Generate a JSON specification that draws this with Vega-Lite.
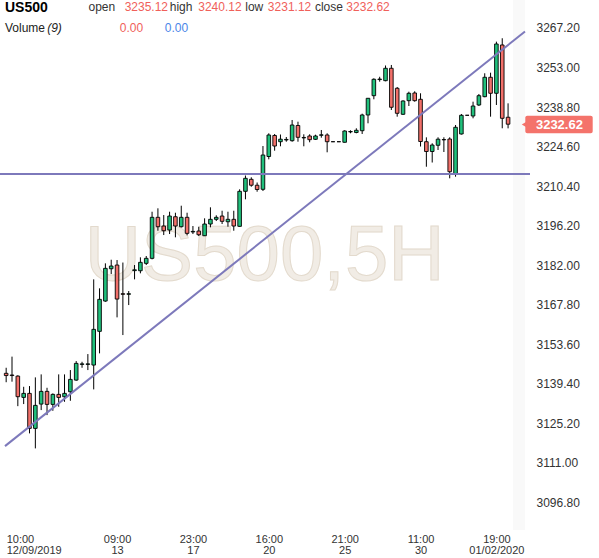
{
  "$schema": "https://vega.github.io/schema/vega-lite/v6.json",
  "autosize": {"type": "none"},
  "width": 530,
  "height": 530,
  "padding": {"left": 0, "top": 0, "right": 69, "bottom": 28},
  "background": "#ffffff",
  "config": {
    "view": {"stroke": null},
    "font": "Liberation Sans",
    "axis": {"domain": false, "ticks": false, "gridColor": "#efefef", "gridWidth": 1, "labelFont": "Liberation Sans", "labelColor": "#333333", "labelFontSize": 11}
  },
  "datasets": {
    "candles": [
      {"i":0,"o":3143.1,"h":3145.1,"l":3139.9,"c":3142.3},
      {"i":1,"o":3142.5,"h":3149.1,"l":3140.1,"c":3142.3},
      {"i":2,"o":3142.1,"h":3142.4,"l":3131.3,"c":3134.7},
      {"i":3,"o":3134.45,"h":3138.26,"l":3132.05,"c":3135.89},
      {"i":4,"o":3135.89,"h":3138.52,"l":3121.52,"c":3123.31},
      {"i":5,"o":3123.31,"h":3141.64,"l":3116.12,"c":3131.58},
      {"i":6,"o":3132.05,"h":3142.72,"l":3129.89,"c":3136.61},
      {"i":7,"o":3136.61,"h":3137.91,"l":3128.09,"c":3131.94},
      {"i":8,"o":3131.94,"h":3135.89,"l":3129.64,"c":3135.53},
      {"i":9,"o":3135.53,"h":3142.72,"l":3131.08,"c":3134.45},
      {"i":10,"o":3134.67,"h":3142.72,"l":3132.87,"c":3135.89},
      {"i":11,"o":3136.47,"h":3144.27,"l":3133.23,"c":3140.92},
      {"i":12,"o":3140.67,"h":3147.5,"l":3140.42,"c":3146.68},
      {"i":13,"o":3146.3,"h":3147.25,"l":3145.1,"c":3146.5},
      {"i":14,"o":3146.3,"h":3150.02,"l":3144.27,"c":3146.5},
      {"i":15,"o":3146.07,"h":3176.87,"l":3137.33,"c":3158.9},
      {"i":16,"o":3158.18,"h":3173.64,"l":3150.27,"c":3169.68},
      {"i":17,"o":3169.07,"h":3182.62,"l":3168.8,"c":3180.82},
      {"i":18,"o":3180.68,"h":3183.92,"l":3178.78,"c":3181.65},
      {"i":19,"o":3182.01,"h":3183.81,"l":3163.21,"c":3169.79},
      {"i":20,"o":3171.7,"h":3182.91,"l":3156.85,"c":3171.5},
      {"i":21,"o":3171.5,"h":3172.67,"l":3167.63,"c":3171.7},
      {"i":22,"o":3180.0,"h":3182.01,"l":3176.87,"c":3180.3},
      {"i":23,"o":3179.96,"h":3184.78,"l":3179.03,"c":3182.98},
      {"i":24,"o":3182.62,"h":3185.25,"l":3182.01,"c":3184.42},
      {"i":25,"o":3184.42,"h":3201.17,"l":3184.06,"c":3199.16},
      {"i":26,"o":3199.16,"h":3202.39,"l":3194.34,"c":3195.78},
      {"i":27,"o":3196.03,"h":3199.98,"l":3192.79,"c":3194.34},
      {"i":28,"o":3194.59,"h":3201.17,"l":3193.15,"c":3199.62},
      {"i":29,"o":3199.37,"h":3200.81,"l":3191.97,"c":3196.03},
      {"i":30,"o":3195.78,"h":3203.33,"l":3195.5,"c":3199.16},
      {"i":31,"o":3199.16,"h":3200.81,"l":3192.69,"c":3193.4},
      {"i":32,"o":3193.9,"h":3196.03,"l":3193.15,"c":3194.1},
      {"i":33,"o":3194.23,"h":3195.78,"l":3192.43,"c":3192.9},
      {"i":34,"o":3192.54,"h":3198.8,"l":3192.43,"c":3196.75},
      {"i":35,"o":3196.75,"h":3202.75,"l":3195.56,"c":3198.44},
      {"i":36,"o":3198.44,"h":3199.88,"l":3197.83,"c":3199.16},
      {"i":37,"o":3199.62,"h":3201.53,"l":3196.75,"c":3197.72},
      {"i":38,"o":3197.57,"h":3201.17,"l":3195.78,"c":3198.44},
      {"i":39,"o":3198.44,"h":3201.53,"l":3194.34,"c":3196.03},
      {"i":40,"o":3195.92,"h":3209.22,"l":3195.78,"c":3208.5},
      {"i":41,"o":3208.5,"h":3214.18,"l":3205.63,"c":3213.17},
      {"i":42,"o":3212.82,"h":3213.53,"l":3210.16,"c":3210.69},
      {"i":43,"o":3210.69,"h":3211.67,"l":3208.36,"c":3209.15},
      {"i":44,"o":3209.22,"h":3224.78,"l":3208.61,"c":3221.55},
      {"i":45,"o":3221.01,"h":3229.35,"l":3220.0,"c":3228.74},
      {"i":46,"o":3228.56,"h":3229.1,"l":3223.1,"c":3224.78},
      {"i":47,"o":3226.33,"h":3228.92,"l":3224.68,"c":3227.23},
      {"i":48,"o":3226.95,"h":3228.02,"l":3226.33,"c":3227.15},
      {"i":49,"o":3226.69,"h":3234.13,"l":3226.33,"c":3232.33},
      {"i":50,"o":3232.15,"h":3233.52,"l":3226.33,"c":3227.91},
      {"i":51,"o":3227.7,"h":3228.99,"l":3224.68,"c":3227.85},
      {"i":52,"o":3228.38,"h":3228.99,"l":3226.12,"c":3227.05},
      {"i":53,"o":3227.19,"h":3228.85,"l":3226.94,"c":3228.38},
      {"i":54,"o":3228.65,"h":3230.54,"l":3227.77,"c":3228.8},
      {"i":55,"o":3228.74,"h":3229.35,"l":3222.52,"c":3226.33},
      {"i":56,"o":3226.33,"h":3226.33,"l":3226.33,"c":3226.33},
      {"i":57,"o":3226.33,"h":3226.33,"l":3226.33,"c":3226.33},
      {"i":58,"o":3226.12,"h":3230.43,"l":3226.05,"c":3230.18},
      {"i":59,"o":3229.85,"h":3230.43,"l":3229.35,"c":3230.0},
      {"i":60,"o":3229.64,"h":3231.15,"l":3229.35,"c":3230.43},
      {"i":61,"o":3230.28,"h":3236.4,"l":3229.1,"c":3235.93},
      {"i":62,"o":3235.93,"h":3242.0,"l":3232.94,"c":3241.93},
      {"i":63,"o":3242.87,"h":3249.12,"l":3241.57,"c":3248.76},
      {"i":64,"o":3248.65,"h":3249.66,"l":3247.9,"c":3248.85},
      {"i":65,"o":3248.26,"h":3253.72,"l":3248.04,"c":3252.71},
      {"i":66,"o":3252.71,"h":3253.9,"l":3237.73,"c":3238.7},
      {"i":67,"o":3245.53,"h":3245.99,"l":3235.32,"c":3236.54},
      {"i":68,"o":3236.18,"h":3241.2,"l":3235.93,"c":3240.96},
      {"i":69,"o":3241.07,"h":3244.3,"l":3239.16,"c":3243.73},
      {"i":70,"o":3243.84,"h":3244.45,"l":3240.71,"c":3241.07},
      {"i":71,"o":3241.57,"h":3243.73,"l":3224.6,"c":3226.4},
      {"i":72,"o":3226.33,"h":3227.9,"l":3217.34,"c":3222.81},
      {"i":73,"o":3222.81,"h":3225.76,"l":3218.85,"c":3225.14},
      {"i":74,"o":3225.04,"h":3227.91,"l":3223.35,"c":3227.23},
      {"i":75,"o":3227.0,"h":3227.91,"l":3222.63,"c":3227.1},
      {"i":76,"o":3227.3,"h":3227.91,"l":3213.17,"c":3215.55},
      {"i":77,"o":3214.72,"h":3232.33,"l":3213.75,"c":3231.51},
      {"i":78,"o":3229.1,"h":3236.29,"l":3228.9,"c":3235.82},
      {"i":79,"o":3235.82,"h":3235.82,"l":3235.82,"c":3235.82},
      {"i":80,"o":3235.57,"h":3240.71,"l":3234.74,"c":3239.16},
      {"i":81,"o":3239.52,"h":3243.48,"l":3239.16,"c":3242.87},
      {"i":82,"o":3242.51,"h":3250.92,"l":3242.3,"c":3249.48},
      {"i":83,"o":3249.48,"h":3251.13,"l":3235.32,"c":3243.73},
      {"i":84,"o":3243.73,"h":3262.28,"l":3239.52,"c":3261.45},
      {"i":85,"o":3261.09,"h":3263.5,"l":3231.15,"c":3234.74},
      {"i":86,"o":3235.12,"h":3240.12,"l":3231.12,"c":3232.62}
    ],
    "trend": [
      {"i": -0.2, "v": 3116.95},
      {"i": 88.9, "v": 3265.94}
    ]
  },
  "layer": [
    {
      "data": {"values": [{}]},
      "mark": {"type": "text", "text": "US500,5H", "font": "Liberation Sans", "fontSize": 78, "align": "center", "baseline": "middle", "fill": "#f1ece5", "stroke": "#e3dacd", "strokeWidth": 1},
      "encoding": {
        "x": {"datum": 44.3, "type": "quantitative", "title": null,
          "scale": {"domain": [-0.2, 88.9], "nice": false, "zero": false},
          "axis": {"orient": "bottom", "values": [0, 19, 32, 45, 58, 71, 84], "labelPadding": 3, "labelLineHeight": 11, "labelFontSize": 11,
            "labelAlign": {"condition": {"test": "datum.value == 0", "value": "left"}, "value": "center"},
            "gridOpacity": {"condition": {"test": "datum.value == 0", "value": 0}, "value": 1},
            "labelExpr": "datum.value == 0 ? ['10:00', '12/09/2019'] : datum.value == 19 ? ['09:00', '13'] : datum.value == 32 ? ['23:00', '17'] : datum.value == 45 ? ['16:00', '20'] : datum.value == 58 ? ['21:00', '25'] : datum.value == 71 ? ['11:00', '30'] : ['19:00', '01/02/2020']"}},
        "y": {"datum": 3184.9, "type": "quantitative", "title": null,
          "scale": {"domain": [3086.8, 3277.25], "nice": false, "zero": false},
          "axis": {"orient": "right", "values": [3096.8, 3111.0, 3125.2, 3139.4, 3153.6, 3167.8, 3182.0, 3196.2, 3210.4, 3224.6, 3238.8, 3253.0, 3267.2], "format": ".2f", "labelPadding": 6, "labelFontSize": 12}}
      }
    },
    {
      "data": {"values": [{}]},
      "mark": {"type": "rect", "fill": "#ececec", "opacity": 0.3},
      "encoding": {
        "x": {"datum": 86.85, "type": "quantitative"},
        "x2": {"datum": 88.9}
      }
    },
    {
      "data": {"name": "candles"},
      "mark": {"type": "rule", "color": "#000000", "strokeWidth": 1},
      "encoding": {
        "x": {"field": "i", "type": "quantitative", "title": null},
        "y": {"field": "l", "type": "quantitative", "title": null},
        "y2": {"field": "h"}
      }
    },
    {
      "data": {"name": "candles"},
      "mark": {"type": "bar", "size": 3.6, "stroke": "#000000", "strokeWidth": 0.9},
      "encoding": {
        "x": {"field": "i", "type": "quantitative", "title": null},
        "y": {"field": "o", "type": "quantitative", "title": null},
        "y2": {"field": "c"},
        "fill": {"condition": {"test": "datum.c >= datum.o", "value": "#20c07c"}, "value": "#f2706a"}
      }
    },
    {
      "data": {"values": [{}]},
      "mark": {"type": "rule", "color": "#7d79bb", "strokeWidth": 2},
      "encoding": {"y": {"datum": 3214.7, "type": "quantitative"}}
    },
    {
      "data": {"name": "trend"},
      "mark": {"type": "line", "color": "#7d79bb", "strokeWidth": 2, "clip": true},
      "encoding": {
        "x": {"field": "i", "type": "quantitative", "title": null},
        "y": {"field": "v", "type": "quantitative", "title": null}
      }
    },
    {
      "data": {"values": [{}]},
      "mark": {"type": "text", "text": "US500", "font": "Liberation Sans", "fontSize": 14, "fontWeight": "bold", "align": "left", "baseline": "alphabetic", "fill": "#000000"},
      "encoding": {"x": {"datum": -0.2, "type": "quantitative"}, "y": {"datum": 3273.0, "type": "quantitative"}}
    },
    {
      "data": {"values": [{}]},
      "mark": {"type": "text", "text": "open", "fontSize": 12, "align": "left", "baseline": "alphabetic", "fill": "#333333"},
      "encoding": {"x": {"datum": 14.1, "type": "quantitative"}, "y": {"datum": 3273.3, "type": "quantitative"}}
    },
    {
      "data": {"values": [{}]},
      "mark": {"type": "text", "text": "3235.12", "fontSize": 12, "align": "left", "baseline": "alphabetic", "fill": "#f0605a"},
      "encoding": {"x": {"datum": 20.3, "type": "quantitative"}, "y": {"datum": 3273.3, "type": "quantitative"}}
    },
    {
      "data": {"values": [{}]},
      "mark": {"type": "text", "text": "high", "fontSize": 12, "align": "left", "baseline": "alphabetic", "fill": "#333333"},
      "encoding": {"x": {"datum": 28.03, "type": "quantitative"}, "y": {"datum": 3273.3, "type": "quantitative"}}
    },
    {
      "data": {"values": [{}]},
      "mark": {"type": "text", "text": "3240.12", "fontSize": 12, "align": "left", "baseline": "alphabetic", "fill": "#f0605a"},
      "encoding": {"x": {"datum": 32.91, "type": "quantitative"}, "y": {"datum": 3273.3, "type": "quantitative"}}
    },
    {
      "data": {"values": [{}]},
      "mark": {"type": "text", "text": "low", "fontSize": 12, "align": "left", "baseline": "alphabetic", "fill": "#333333"},
      "encoding": {"x": {"datum": 40.97, "type": "quantitative"}, "y": {"datum": 3273.3, "type": "quantitative"}}
    },
    {
      "data": {"values": [{}]},
      "mark": {"type": "text", "text": "3231.12", "fontSize": 12, "align": "left", "baseline": "alphabetic", "fill": "#f0605a"},
      "encoding": {"x": {"datum": 44.84, "type": "quantitative"}, "y": {"datum": 3273.3, "type": "quantitative"}}
    },
    {
      "data": {"values": [{}]},
      "mark": {"type": "text", "text": "close", "fontSize": 12, "align": "left", "baseline": "alphabetic", "fill": "#333333"},
      "encoding": {"x": {"datum": 52.91, "type": "quantitative"}, "y": {"datum": 3273.3, "type": "quantitative"}}
    },
    {
      "data": {"values": [{}]},
      "mark": {"type": "text", "text": "3232.62", "fontSize": 12, "align": "left", "baseline": "alphabetic", "fill": "#f0605a"},
      "encoding": {"x": {"datum": 58.29, "type": "quantitative"}, "y": {"datum": 3273.3, "type": "quantitative"}}
    },
    {
      "data": {"values": [{}]},
      "mark": {"type": "text", "text": "Volume", "fontSize": 12, "align": "left", "baseline": "alphabetic", "fill": "#222222"},
      "encoding": {"x": {"datum": -0.2, "type": "quantitative"}, "y": {"datum": 3265.86, "type": "quantitative"}}
    },
    {
      "data": {"values": [{}]},
      "mark": {"type": "text", "text": "(9)", "fontSize": 12, "fontStyle": "italic", "align": "left", "baseline": "alphabetic", "fill": "#222222"},
      "encoding": {"x": {"datum": 7.03, "type": "quantitative"}, "y": {"datum": 3265.86, "type": "quantitative"}}
    },
    {
      "data": {"values": [{}]},
      "mark": {"type": "text", "text": "0.00", "fontSize": 12, "align": "left", "baseline": "alphabetic", "fill": "#f0605a"},
      "encoding": {"x": {"datum": 19.46, "type": "quantitative"}, "y": {"datum": 3265.86, "type": "quantitative"}}
    },
    {
      "data": {"values": [{}]},
      "mark": {"type": "text", "text": "0.00", "fontSize": 12, "align": "left", "baseline": "alphabetic", "fill": "#4a86e8"},
      "encoding": {"x": {"datum": 27.19, "type": "quantitative"}, "y": {"datum": 3265.86, "type": "quantitative"}}
    },
    {
      "data": {"values": [{}]},
      "mark": {"type": "rect", "fill": "#f4736b", "cornerRadius": 2},
      "encoding": {
        "x": {"datum": 88.95, "type": "quantitative"}, "x2": {"datum": 100.5},
        "y": {"datum": 3235.66, "type": "quantitative"}, "y2": {"datum": 3229.34}
      }
    },
    {
      "data": {"values": [{}]},
      "mark": {"type": "point", "shape": "triangle-left", "filled": true, "fill": "#f4736b", "opacity": 1, "size": 30},
      "encoding": {"x": {"datum": 88.75, "type": "quantitative"}, "y": {"datum": 3232.5, "type": "quantitative"}}
    },
    {
      "data": {"values": [{}]},
      "mark": {"type": "text", "text": "3232.62", "fontSize": 13, "fontWeight": "bold", "align": "center", "baseline": "middle", "fill": "#ffffff"},
      "encoding": {"x": {"datum": 94.8, "type": "quantitative"}, "y": {"datum": 3232.5, "type": "quantitative"}}
    }
  ]
}
